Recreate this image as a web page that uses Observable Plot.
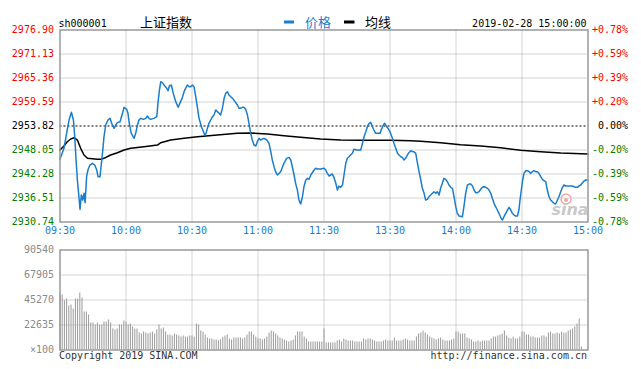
<!DOCTYPE html>
<html>
<head>
<meta charset="utf-8">
<script src="https://cdn.jsdelivr.net/npm/d3@7"></script>
<script src="https://cdn.jsdelivr.net/npm/@observablehq/plot@0.6"></script>
<style>
  html, body { margin: 0; padding: 0; background: #fff; }
  #chart { position: relative; width: 641px; height: 369px; overflow: hidden; background: #fff; }
  #chart svg { position: absolute; left: 0; }
</style>
</head>
<body>
<div id="chart"></div>
<script>
// ---------- data ----------
const code = "sh000001";
const title = "上证指数";
const legendPrice = "价格";
const legendAvg = "均线";
const stamp = "2019-02-28 15:00:00";
const prevClose = 2953.82;

const yTickValue = [2930.74, 2936.51, 2942.28, 2948.05, 2953.82, 2959.59, 2965.36, 2971.13, 2976.90];
const pctLabel = ["-0.78%", "-0.59%", "-0.39%", "-0.20%", "0.00%", "+0.20%", "+0.39%", "+0.59%", "+0.78%"];
const timeTickMinute = [0, 30, 60, 90, 120, 150, 180, 210, 240];
const timeTickLabel = ["09:30", "10:00", "10:30", "11:00", "11:30", "13:30", "14:00", "14:30", "15:00"];
const volTickValue = [0, 22635, 45270, 67905, 90540];
const volTickLabel = ["×100", "22635", "45270", "67905", "90540"];

// price line vertices: minutes since 09:30 (trading minutes) and index value
const priceMinute = [0,1.8,3.0,4.1,5.2,6.1,6.7,7.3,7.9,8.6,9.1,9.7,10.3,10.9,11.4,12.1,12.7,13.6,14.7,15.8,16.7,17.3,18.2,18.5,19.3,20.0,20.8,21.8,22.7,23.5,24.6,25.3,26.1,27.3,28.4,29.1,30.3,30.9,31.5,32.4,33.7,34.4,35.2,35.9,36.7,37.9,39.0,39.7,40.5,41.2,42.7,44.0,44.6,45.2,45.8,46.5,47.3,48.5,49.1,49.7,50.6,51.5,52.6,53.7,54.6,55.5,56.4,57.1,57.9,58.7,59.4,60.2,60.9,61.7,62.4,63.2,64.3,65.2,65.8,66.4,67.0,67.7,68.5,69.3,70.0,70.8,71.5,72.3,73.0,73.8,74.6,75.3,76.1,76.8,77.6,78.8,79.9,80.6,81.4,82.1,82.9,83.6,84.4,85.2,85.9,86.7,87.4,88.2,89.0,89.7,90.5,91.2,92.7,94.0,95.0,95.8,96.5,97.3,98.0,98.8,99.6,
  100.3,101.8,103.0,104.1,104.9,105.6,106.4,107.1,107.9,108.6,109.4,110.2,110.9,111.7,112.5,113.2,114.0,115.5,116.2,117.0,118.5,120.0,120.8,121.5,122.3,123.0,123.8,124.5,125.3,126.1,126.8,127.6,128.4,129.1,129.9,130.6,131.4,132.1,132.9,133.6,134.9,136.7,137.5,138.2,139.0,139.7,140.5,141.2,142.0,142.7,143.5,144.3,145.5,146.1,147.0,147.6,148.5,149.1,150.0,151.1,151.8,152.6,153.4,154.1,154.9,155.6,156.4,157.1,157.9,158.6,159.4,160.2,160.9,161.7,162.5,163.2,164.0,164.7,165.5,166.2,167.0,167.7,168.5,169.3,170.0,170.8,171.5,172.3,173.0,173.8,174.5,175.3,176.1,176.8,177.6,178.4,179.1,179.9,180.6,181.4,182.9,183.6,184.4,185.2,185.9,186.7,187.5,188.2,189.0,189.7,190.5,191.2,192.0,192.7,193.5,194.3,195.0,195.8,196.5,197.3,198.0,198.8,199.5,200.3,201.1,201.8,202.6,203.4,204.1,204.9,205.6,206.4,207.1,207.9,208.6,209.1,209.7,210.3,210.9,211.7,212.5,213.2,214.0,214.7,215.5,216.2,217.0,217.7,218.5,219.3,220.0,220.8,221.5,222.3,223.0,223.8,224.5,225.3,226.1,226.8,227.6,228.4,229.1,229.9,230.6,232.1,232.9,233.6,234.4,235.2,235.9,236.7,237.5,238.2,239.0,240];
const priceValue = [2945.81,2948.45,2952.06,2955.26,2957.11,2955.26,2951.26,2945.65,2940.84,2936.83,2933.79,2937.23,2936.03,2937.63,2935.39,2941.64,2943.24,2944.44,2944.84,2944.44,2943.24,2941.64,2941.64,2943.24,2947.25,2951.26,2954.06,2955.26,2955.66,2954.46,2953.26,2954.06,2954.62,2954.86,2956.87,2958.31,2957.83,2956.87,2954.46,2952.06,2950.86,2952.06,2954.06,2955.26,2955.66,2955.42,2955.66,2956.22,2955.66,2955.42,2955.66,2956.06,2959.67,2962.47,2964.48,2964.24,2963.68,2962.88,2962.31,2963.44,2963.68,2961.67,2959.67,2958.31,2959.43,2960.47,2962.07,2962.88,2963.68,2963.28,2963.28,2963.68,2963.28,2960.87,2958.47,2955.66,2953.66,2952.46,2951.66,2952.06,2953.26,2954.46,2955.26,2956.06,2956.46,2957.67,2957.27,2956.87,2956.46,2958.07,2960.47,2961.67,2962.07,2961.27,2960.87,2960.23,2959.43,2958.87,2958.07,2958.07,2958.31,2958.31,2957.83,2956.46,2954.46,2952.06,2950.45,2949.25,2949.01,2950.05,2950.86,2950.45,2950.86,2950.45,2949.65,2947.65,2945.65,2944.04,2942.84,2942.04,2942.44,
  2942.83,2944.85,2946.05,2946.29,2945.65,2944.03,2942.04,2940.04,2938.43,2936.03,2935.06,2936.82,2939.22,2940.84,2941.24,2941.00,2942.04,2943.24,2943.65,2943.48,2943.48,2943.65,2943.24,2942.44,2941.80,2942.04,2942.28,2941.48,2940.19,2938.43,2939.39,2939.08,2939.63,2942.04,2944.85,2946.05,2946.44,2946.85,2947.25,2948.22,2948.05,2948.05,2949.66,2951.24,2952.45,2953.65,2954.47,2954.71,2953.65,2952.86,2952.06,2952.06,2952.06,2953.02,2954.06,2954.47,2953.65,2953.26,2952.45,2950.86,2949.66,2948.46,2947.25,2946.85,2946.44,2946.29,2945.65,2946.05,2946.85,2947.40,2947.88,2947.64,2947.64,2947.25,2944.85,2942.83,2940.84,2938.84,2937.64,2936.03,2936.19,2936.82,2937.23,2937.64,2938.02,2937.64,2938.02,2937.23,2938.84,2940.04,2941.24,2941.00,2940.43,2939.63,2939.08,2938.84,2936.82,2934.42,2932.83,2932.18,2932.01,2934.42,2937.64,2939.63,2939.87,2939.87,2939.39,2938.43,2937.78,2937.78,2938.02,2938.60,2939.08,2939.22,2939.08,2938.84,2938.43,2937.64,2936.43,2935.23,2934.42,2933.62,2932.83,2931.87,2931.22,2932.01,2932.83,2933.62,2934.27,2933.62,2932.83,2932.42,2932.18,2932.18,2933.62,2936.03,2938.43,2940.84,2942.44,2943.07,2943.07,2942.83,2942.44,2942.83,2943.07,2942.83,2942.83,2942.44,2941.63,2941.00,2940.67,2940.43,2938.43,2936.82,2936.03,2935.62,2935.23,2935.06,2936.03,2936.82,2938.02,2939.08,2939.63,2939.39,2939.39,2939.39,2939.39,2939.22,2939.08,2939.08,2939.39,2939.63,2940.19,2940.60,2940.84,2940.84];

// average-price line vertices
const avgMinute = [0,1.8,3.3,4.9,6.4,7.9,9.4,10.9,12.5,17.0,18.5,20,23.0,26.1,29.1,32.1,38.2,44.3,45.8,50.3,56.4,62.5,71.5,80.6,86.7,94.3,101.8,109.4,118.5,127.6,136.7,150.3,159.4,164,173,182.1,191.2,200.3,209.4,218.5,227.6,240];
const avgValue = [2948.05,2949.01,2950.04,2950.69,2951.00,2950.45,2948.46,2946.85,2946.05,2945.81,2945.81,2946.05,2946.85,2947.40,2948.05,2948.46,2948.84,2949.25,2949.80,2950.45,2950.86,2951.24,2951.66,2952.06,2952.13,2951.89,2951.49,2951.10,2950.69,2950.45,2950.38,2950.38,2950.28,2950.14,2949.80,2949.32,2949.01,2948.60,2947.97,2947.64,2947.33,2947.09];

// volume per trading minute (×100 shares), minute 0 .. 240
const volume = [49800,49800,44670,46180,39840,40740,37120,46180,46180,51610,47080,
  34400,34400,31690,24450,24450,22640,24450,22640,22640,25350,
  25350,27160,24450,19010,18110,19010,22640,22640,26260,25350,
  22640,23540,20820,19010,19010,15390,14490,16300,15390,14490,
  15390,16300,14490,18110,22640,19010,19920,16300,13580,13580,
  12680,14490,13580,12680,11770,12680,11770,11770,12680,12680,
  11770,23540,22640,17200,16000,13580,10870,9960,9960,9050,
  9050,8450,9050,11470,12680,13580,9960,9050,10870,10870,
  10870,10870,9960,10870,13580,16300,16300,13580,11770,9960,
  9960,9050,9960,11770,15390,17200,16300,14490,12680,10870,
  9960,9050,8150,7240,8150,9050,12680,16300,16300,16300,
  11770,9960,7240,7240,7240,7240,7240,7240,7240,19010,
  6340,6340,6340,6340,6340,8150,9050,7240,9960,9050,
  8150,8150,8150,7240,7240,7240,7240,9960,9050,9960,
  9960,9050,8150,7240,7240,7240,8150,9050,8150,8150,
  8150,10870,8150,8150,8150,9050,9960,9050,8150,8150,
  8150,11770,14490,15390,17200,15390,13580,11770,10870,9960,
  9050,9960,10870,9050,8150,8150,8150,9050,9960,16300,
  16300,14490,14490,14490,10870,9960,9050,7240,7240,8150,
  7240,8150,8150,8150,8150,9960,11770,11770,12680,13580,
  14490,17200,12680,10870,9960,11770,9960,9960,11770,16300,
  16300,13580,13580,11770,11770,10870,10870,10870,12680,12680,
  11770,15390,16300,14490,14490,15390,14490,16300,15390,15390,
  17200,18110,19010,20820,23540,28070,2720,0,0,0];

// ---------- drawing ----------
const blue = "#1a7dcc";
const red = "#ff0000";
const green = "#008000";
const gridStroke = "#a8a8a8";
const frameStroke = "#999999";
const mono = "'DejaVu Sans Mono', monospace";
const cjk = "'Noto Sans CJK SC', sans-serif";

const price = priceMinute.map((m, k) => ({m, p: priceValue[k]}));
const avg = avgMinute.map((m, k) => ({m, p: avgValue[k]}));
const vol = volume.map((v, m) => ({m, v})).filter(d => d.v > 0);
const tickColor = v => v > prevClose ? red : v < prevClose ? green : "#000000";

const priceChart = Plot.plot({
  width: 641,
  height: 245,
  marginTop: 29.5,
  marginBottom: 23.5,
  marginLeft: 59.5,
  marginRight: 53.5,
  x: {domain: [timeTickMinute[0], timeTickMinute[timeTickMinute.length - 1]], axis: null},
  y: {domain: [yTickValue[0], yTickValue[yTickValue.length - 1]], axis: null},
  color: {type: "identity"},
  style: {fontFamily: mono, fontSize: "10px", background: "transparent", overflow: "visible"},
  marks: [
    Plot.ruleY(yTickValue.slice(1, -1).filter(v => v !== prevClose), {stroke: gridStroke, strokeDasharray: "1,1"}),
    Plot.ruleX(timeTickMinute.slice(1, -1), {stroke: gridStroke, strokeDasharray: "1,1"}),
    Plot.ruleY([prevClose], {stroke: "#000", strokeDasharray: "2,2"}),
    Plot.line(avg, {x: "m", y: "p", stroke: "#000", strokeWidth: 1.5}),
    Plot.line(price, {x: "m", y: "p", stroke: blue, strokeWidth: 1.5}),
    Plot.frame({stroke: frameStroke, strokeWidth: 1.5}),
    Plot.text(yTickValue, {y: d => d, frameAnchor: "left", textAnchor: "end", dx: -6, text: d => d.toFixed(2), fill: tickColor}),
    Plot.text(yTickValue, {y: d => d, frameAnchor: "right", textAnchor: "end", dx: 40, text: (d, i) => pctLabel[i], fill: tickColor}),
    Plot.text(timeTickMinute, {x: d => d, frameAnchor: "bottom", dy: 12, text: (d, i) => timeTickLabel[i], fill: blue})
  ]
});

const volumeChart = Plot.plot({
  width: 641,
  height: 124,
  marginTop: 4.5,
  marginBottom: 19.5,
  marginLeft: 59.5,
  marginRight: 53.5,
  x: {domain: [timeTickMinute[0], timeTickMinute[timeTickMinute.length - 1]], axis: null},
  y: {domain: [volTickValue[0], volTickValue[volTickValue.length - 1]], axis: null},
  style: {fontFamily: mono, fontSize: "10px", background: "transparent", overflow: "visible"},
  marks: [
    Plot.ruleY(volTickValue.slice(1, -1), {stroke: gridStroke, strokeDasharray: "1,1"}),
    Plot.ruleX(timeTickMinute.slice(1, -1), {stroke: gridStroke, strokeDasharray: "1,1"}),
    Plot.ruleX(vol, {x: "m", y1: 0, y2: "v", stroke: "#9a9a9a", strokeWidth: 1}),
    Plot.frame({stroke: frameStroke, strokeWidth: 1.5}),
    Plot.text(volTickValue, {y: d => d, frameAnchor: "left", textAnchor: "end", dx: -6, text: (d, i) => volTickLabel[i], fill: "#8a8a8a"})
  ]
});

const chart = document.getElementById("chart");
priceChart.style.top = "0px";
volumeChart.style.top = "245px";
chart.appendChild(priceChart);
chart.appendChild(volumeChart);

// header, legend, footer and watermark
const overlay = d3.create("svg")
  .attr("width", 641).attr("height", 369)
  .style("top", "0px").style("pointer-events", "none");

overlay.append("text").attr("x", 58.5).attr("y", 26.5)
  .attr("font-family", mono).attr("font-size", 10).attr("fill", "#000").text(code);
overlay.append("text").attr("x", 140).attr("y", 27)
  .attr("font-family", cjk).attr("font-size", 13).attr("fill", "#000").text(title);
overlay.append("rect").attr("x", 284).attr("y", 20.5).attr("width", 10).attr("height", 3).attr("fill", blue);
overlay.append("text").attr("x", 305).attr("y", 27)
  .attr("font-family", cjk).attr("font-size", 13).attr("fill", blue).text(legendPrice);
overlay.append("rect").attr("x", 344).attr("y", 20.5).attr("width", 10.5).attr("height", 3).attr("fill", "#000");
overlay.append("text").attr("x", 365).attr("y", 27)
  .attr("font-family", cjk).attr("font-size", 13).attr("fill", "#000").text(legendAvg);
overlay.append("text").attr("x", 586.5).attr("y", 26.5).attr("text-anchor", "end")
  .attr("font-family", mono).attr("font-size", 10).attr("fill", "#000").text(stamp);

overlay.append("text").attr("x", 59).attr("y", 358.5)
  .attr("font-family", mono).attr("font-size", 10).attr("fill", "#333").text("Copyright 2019 SINA.COM");
overlay.append("text").attr("x", 587).attr("y", 358.5).attr("text-anchor", "end")
  .attr("font-family", mono).attr("font-size", 10).attr("fill", "#333").text("http://finance.sina.com.cn");

// sina watermark
overlay.append("circle").attr("cx", 566).attr("cy", 199).attr("r", 5)
  .attr("fill", "none").attr("stroke", "#f3a7a7").attr("stroke-width", 1.5);
overlay.append("circle").attr("cx", 566).attr("cy", 200).attr("r", 2).attr("fill", "#f3a7a7");
overlay.append("text").attr("x", 570).attr("y", 215).attr("text-anchor", "middle")
  .attr("font-family", "'DejaVu Sans', sans-serif").attr("font-size", 16)
  .attr("font-weight", "bold").attr("font-style", "italic")
  .attr("fill", "#c9c9c9").text("sina");

chart.appendChild(overlay.node());
</script>
</body>
</html>
